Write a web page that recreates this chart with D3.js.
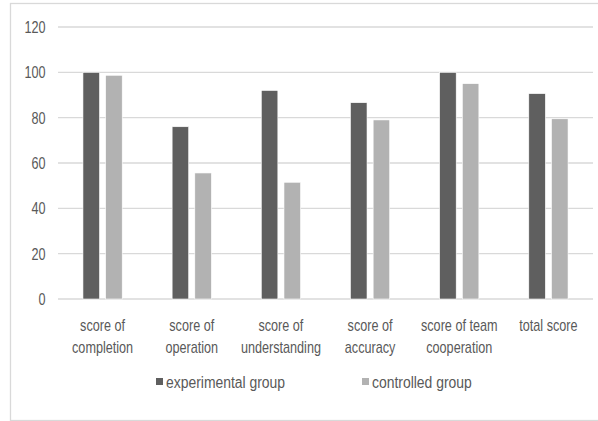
<!DOCTYPE html>
<html><head><meta charset="utf-8">
<script src="https://cdn.jsdelivr.net/npm/d3@7"></script>
<style>body{margin:0;background:#fff}svg{display:block}</style>
</head><body>
<svg id="c" width="598" height="421"></svg>
<script>
const categories = [["score of","completion"],["score of","operation"],["score of","understanding"],["score of","accuracy"],["score of team","cooperation"],["total score"]];
const seriesNames = ["experimental group","controlled group"];
const experimental = [100, 76, 92, 86.6, 100, 90.6];
const controlled = [98.7, 55.6, 51.5, 79, 95, 79.5];
const yTicks = [0,20,40,60,80,100,120];
const colors = ["#5f5f5f","#b2b2b2"];
const font = "'Liberation Sans',Arial,sans-serif";
const textColor = "#595959";
const fs = 16;
const sx = 0.79;   // narrow text
const sxLeg = 0.87;

const svg = d3.select("#c");
svg.append("rect").attr("x",10.5).attr("y",3.5).attr("width",600).attr("height",417)
  .attr("fill","#fff").attr("stroke","#d9d9d9").attr("stroke-width",1.3);

const x = d3.scaleBand().domain(d3.range(categories.length)).range([58,593]);
const y = d3.scaleLinear().domain([0,120]).range([299,27]);
const sub = d3.scaleBand().domain([0,1]).range([0, x.bandwidth()]).paddingInner(0.27).paddingOuter(1.1);

svg.append("g").selectAll("line").data(yTicks).join("line")
  .attr("x1",58).attr("x2",593).attr("y1",d=>y(d)).attr("y2",d=>y(d))
  .attr("stroke","#d9d9d9").attr("stroke-width",1.3);

const yAxis = svg.append("g").attr("transform",`translate(45.5,0) scale(${sx},1)`)
  .call(d3.axisLeft(y).tickValues(yTicks).tickSize(0).tickPadding(0));
yAxis.select(".domain").remove();
yAxis.selectAll("text").attr("font-family",font).attr("font-size",fs).attr("fill",textColor).attr("dy","0.35em");

[experimental, controlled].forEach((vals, si) => {
  svg.append("g").selectAll("rect").data(vals).join("rect")
    .attr("x",(d,i)=>x(i)+sub(si)).attr("width",sub.bandwidth())
    .attr("y",d=>y(d)).attr("height",d=>y(0)-y(d))
    .attr("fill",colors[si]).attr("stroke","#ffffff").attr("stroke-width",0.6);
});

categories.forEach((lines,i)=>{
  const cx = x(i)+x.bandwidth()/2;
  const t = svg.append("text").attr("transform",`translate(${cx},331) scale(${sx},1)`)
    .attr("text-anchor","middle").attr("font-family",font).attr("font-size",fs).attr("fill",textColor);
  lines.forEach((l,j)=>t.append("tspan").attr("x",0).attr("dy", j===0?0:22).text(l));
});

const legX = [156, 362];
seriesNames.forEach((n,i)=>{
  svg.append("rect").attr("x",legX[i]).attr("y",378).attr("width",7).attr("height",7).attr("fill",colors[i]);
  svg.append("text").attr("transform",`translate(${legX[i]+10},387.5) scale(${sxLeg},1)`)
    .attr("font-family",font).attr("font-size",fs).attr("fill",textColor).text(n);
});
</script>
</body></html>
